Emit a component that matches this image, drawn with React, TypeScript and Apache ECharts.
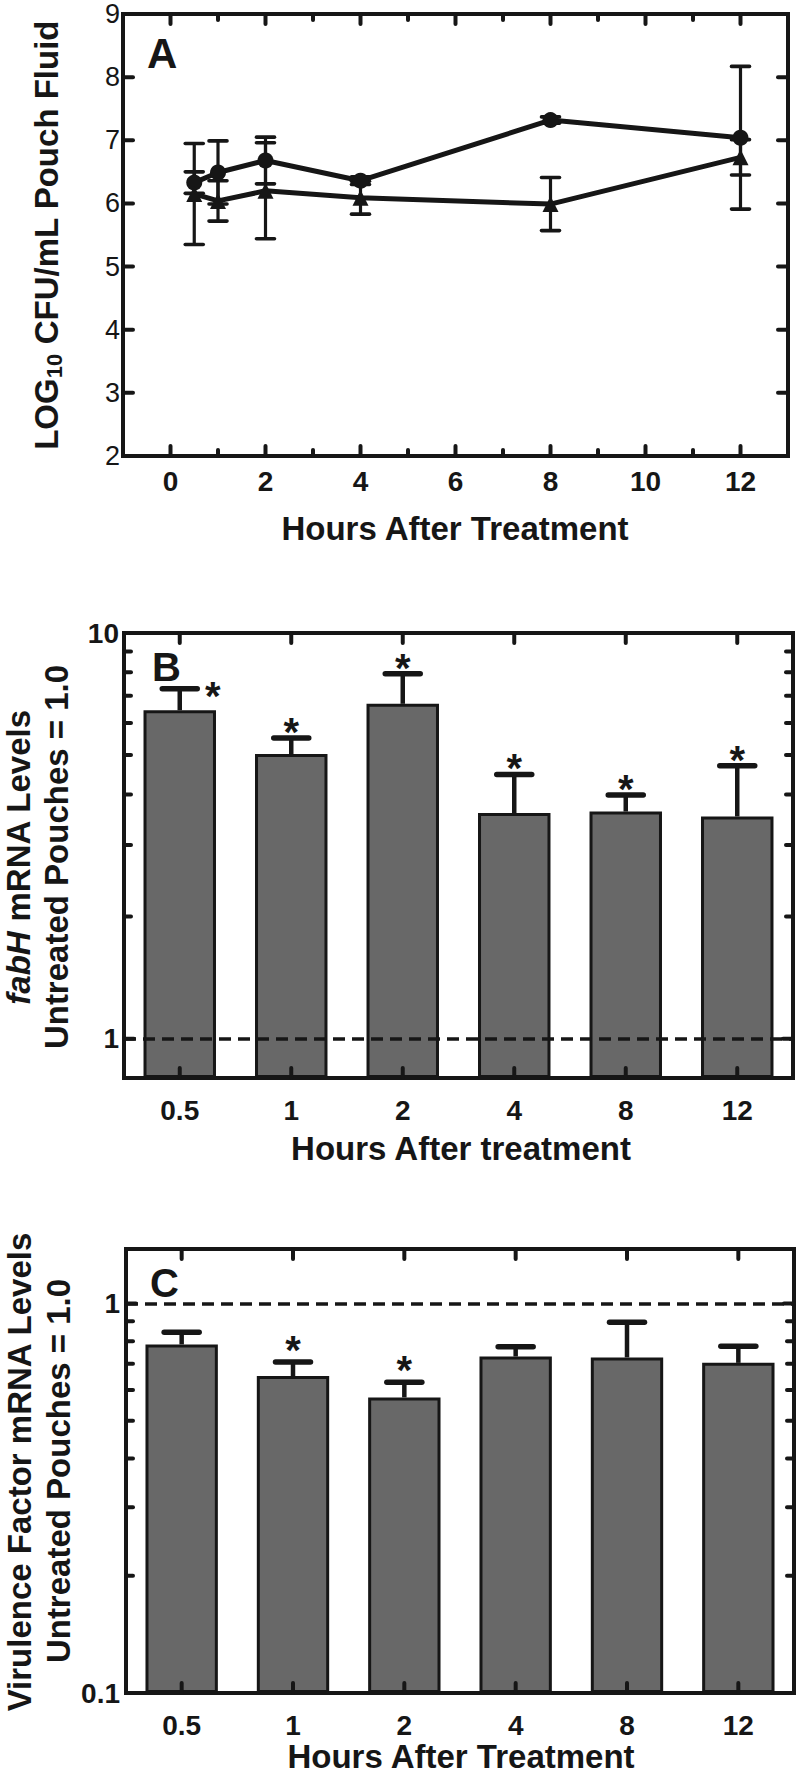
import React, { useEffect, useRef } from 'react';
import * as echarts from 'echarts';

const INK = '#161616';
const BAR_FILL = '#686868';
const FONT = '"Liberation Sans", Arial, Helvetica, sans-serif';

// ---------- Panel A : LOG10 CFU/mL ----------
const hoursA = [0.5, 1, 2, 4, 8, 12];
const circleMean = [6.33, 6.49, 6.68, 6.36, 7.32, 7.04];
const circleErr = [0.17, 0.5, 0.37, 0.06, 0.05, 1.13];
const triangleMean = [6.15, 6.04, 6.2, 6.09, 5.99, 6.73];
const triangleErr = [0.8, 0.32, 0.76, 0.26, 0.42, 0.28];
const xTicksMajorA = [0, 2, 4, 6, 8, 10, 12];
const xTicksMinorA = [1, 3, 5, 7, 9, 11];
const yTicksA = [3, 4, 5, 6, 7, 8];

// ---------- Panel B : fabH mRNA ----------
const categories = ['0.5', '1', '2', '4', '8', '12'];
const fabHMean = [6.45, 5.03, 6.69, 3.6, 3.63, 3.53];
const fabHUpper = [7.29, 5.51, 7.94, 4.48, 3.99, 4.71];
const fabHStar = [1, 1, 1, 1, 1, 1];
const yMajorB = [1];
const yMinorB = [2, 3, 4, 5, 6, 7, 8, 9];

// ---------- Panel C : virulence factor mRNA ----------
const virMean = [0.785, 0.651, 0.574, 0.731, 0.727, 0.704];
const virUpper = [0.844, 0.708, 0.628, 0.774, 0.895, 0.777];
const virStar = [0, 1, 1, 0, 0, 0];
const yMajorC = [1];
const yMinorC = [0.2, 0.3, 0.4, 0.5, 0.6, 0.7, 0.8, 0.9];
const catIndex = [0, 1, 2, 3, 4, 5];

const tickSeries = (idx: number, dir: 'x' | 'y', values: number[], len: number, ref: number) => ({
  type: 'custom',
  xAxisIndex: idx,
  yAxisIndex: idx,
  silent: true,
  clip: false,
  z: 8,
  data: values.map((v) => (dir === 'x' ? [v, ref] : [ref, v])),
  encode: { x: 0, y: 1 },
  renderItem: (params: any, api: any) => {
    const cs = params.coordSys;
    const p = api.coord([api.value(0), api.value(1)]);
    const st = { stroke: INK, lineWidth: 4, lineCap: 'round' };
    if (dir === 'x') {
      const b = cs.y + cs.height;
      const t = cs.y;
      return {
        type: 'group',
        children: [
          { type: 'line', shape: { x1: p[0], y1: b, x2: p[0], y2: b - len }, style: st },
          { type: 'line', shape: { x1: p[0], y1: t, x2: p[0], y2: t + len }, style: st },
        ],
      };
    }
    const l = cs.x;
    const r = cs.x + cs.width;
    return {
      type: 'group',
      children: [
        { type: 'line', shape: { x1: l, y1: p[1], x2: l + len, y2: p[1] }, style: st },
        { type: 'line', shape: { x1: r, y1: p[1], x2: r - len, y2: p[1] }, style: st },
      ],
    };
  },
});

const symErrSeries = (xs: number[], means: number[], errs: number[]) => ({
  type: 'custom',
  xAxisIndex: 0,
  yAxisIndex: 0,
  silent: true,
  z: 3,
  data: means.map((m, i) => [xs[i], m, errs[i]]),
  encode: { x: 0, y: 1 },
  renderItem: (params: any, api: any) => {
    const x = api.value(0);
    const m = api.value(1);
    const e = api.value(2);
    const hi = api.coord([x, m + e]);
    const lo = api.coord([x, m - e]);
    const cap = 9;
    const st = { stroke: INK, lineWidth: 3.2, lineCap: 'butt' };
    const cst = { stroke: INK, lineWidth: 3.6, lineCap: 'round' };
    return {
      type: 'group',
      children: [
        { type: 'line', shape: { x1: hi[0], y1: hi[1], x2: lo[0], y2: lo[1] }, style: st },
        { type: 'line', shape: { x1: hi[0] - cap, y1: hi[1], x2: hi[0] + cap, y2: hi[1] }, style: cst },
        { type: 'line', shape: { x1: lo[0] - cap, y1: lo[1], x2: lo[0] + cap, y2: lo[1] }, style: cst },
      ],
    };
  },
});

const barErrSeries = (
  idx: number,
  means: number[],
  uppers: number[],
  stars: number[],
  starGap: number,
  firstRight: boolean
) => ({
  type: 'custom',
  xAxisIndex: idx,
  yAxisIndex: idx,
  silent: true,
  z: 6,
  data: means.map((m, i) => [catIndex[i], m, uppers[i], stars[i]]),
  encode: { x: 0, y: [1, 2] },
  renderItem: (params: any, api: any) => {
    const i = api.value(0);
    const base = api.coord([i, api.value(1)]);
    const top = api.coord([i, api.value(2)]);
    const half = 17.5;
    const children: any[] = [
      { type: 'line', shape: { x1: top[0], y1: base[1], x2: top[0], y2: top[1] }, style: { stroke: INK, lineWidth: 4.5 } },
      {
        type: 'line',
        shape: { x1: top[0] - half, y1: top[1], x2: top[0] + half, y2: top[1] },
        style: { stroke: INK, lineWidth: 5.5, lineCap: 'round' },
      },
    ];
    if (api.value(3)) {
      const fs = 40;
      const lift = 0.225 * fs;
      let sx = top[0];
      let sy = top[1] - starGap + lift;
      if (firstRight && params.dataIndex === 0) {
        sx = top[0] + 33;
        sy = top[1] - 2 + lift;
      }
      children.push({
        type: 'text',
        x: sx,
        y: sy,
        style: {
          text: '*',
          fontSize: fs,
          fontWeight: 'bold',
          fontFamily: FONT,
          fill: INK,
          align: 'center',
          verticalAlign: 'middle',
        },
      });
    }
    return { type: 'group', children };
  },
});

const txt = (
  text: string,
  x: number,
  y: number,
  size: number,
  opts: any = {}
) => ({
  type: 'text',
  x,
  y,
  rotation: opts.rotation || 0,
  silent: true,
  z: 20,
  style: {
    text,
    fontSize: size,
    fontWeight: opts.weight || 'bold',
    fontFamily: FONT,
    fill: INK,
    align: opts.align || 'center',
    textAlign: opts.align || 'center',
    verticalAlign: 'middle',
    textVerticalAlign: 'middle',
    lineHeight: opts.lineHeight,
    rich: opts.rich,
  },
});

const axisLabelBase = {
  color: INK,
  fontFamily: FONT,
  fontSize: 28,
  fontWeight: 'bold',
  lineHeight: 28,
};

const near = (a: number, b: number) => Math.abs(a - b) < 1e-6 * Math.max(1, Math.abs(b));

export default function App() {
  const ref = useRef<HTMLDivElement>(null);

  useEffect(() => {
    document.body.style.margin = '0';
    document.body.style.overflow = 'hidden';
    if (!ref.current) return;
    const chart = echarts.init(ref.current, undefined, { renderer: 'svg' });

    const gridStyle = { show: true, borderColor: INK, borderWidth: 4, backgroundColor: 'transparent', outerBoundsMode: 'none' };

    const option: any = {
      animation: false,
      backgroundColor: '#ffffff',
      grid: [
        { ...gridStyle, left: 123, top: 14, width: 665, height: 442 },
        { ...gridStyle, left: 124, top: 633, width: 669, height: 445 },
        { ...gridStyle, left: 126, top: 1249, width: 668, height: 444 },
      ],
      xAxis: [
        {
          gridIndex: 0,
          type: 'value',
          min: -1,
          max: 13,
          interval: 1,
          axisLine: { show: false },
          axisTick: { show: false },
          splitLine: { show: false },
          axisLabel: {
            ...axisLabelBase,
            margin: 11,
            formatter: (v: number) => (v >= 0 && v % 2 === 0 ? String(v) : ''),
          },
        },
        {
          gridIndex: 1,
          type: 'category',
          data: categories,
          boundaryGap: true,
          axisLine: { show: false },
          axisTick: { show: false },
          splitLine: { show: false },
          axisLabel: { ...axisLabelBase, margin: 18, interval: 0 },
        },
        {
          gridIndex: 2,
          type: 'category',
          data: categories,
          boundaryGap: true,
          axisLine: { show: false },
          axisTick: { show: false },
          splitLine: { show: false },
          axisLabel: { ...axisLabelBase, margin: 18, interval: 0 },
        },
      ],
      yAxis: [
        {
          gridIndex: 0,
          type: 'value',
          min: 2,
          max: 9,
          interval: 1,
          axisLine: { show: false },
          axisTick: { show: false },
          splitLine: { show: false },
          axisLabel: { ...axisLabelBase, fontWeight: 'normal', fontSize: 27, lineHeight: 27, margin: 3 },
        },
        {
          gridIndex: 1,
          type: 'log',
          logBase: 10,
          min: 0.8,
          max: 10,
          startValue: 0.8,
          axisLine: { show: false },
          axisTick: { show: false },
          splitLine: { show: false },
          minorTick: { show: false },
          axisLabel: {
            ...axisLabelBase,
            margin: 5,
            formatter: (v: number) => (near(v, 10) ? '10' : near(v, 1) ? '1' : ''),
          },
        },
        {
          gridIndex: 2,
          type: 'log',
          logBase: 10,
          min: 0.1,
          max: 1.38,
          startValue: 0.1,
          axisLine: { show: false },
          axisTick: { show: false },
          splitLine: { show: false },
          minorTick: { show: false },
          axisLabel: {
            ...axisLabelBase,
            margin: 6,
            formatter: (v: number) => (near(v, 0.1) ? '0.1' : near(v, 1) ? '1' : ''),
          },
        },
      ],
      series: [
        // Panel A
        symErrSeries(hoursA, circleMean, circleErr),
        symErrSeries(hoursA, triangleMean, triangleErr),
        {
          type: 'line',
          name: 'circle',
          xAxisIndex: 0,
          yAxisIndex: 0,
          z: 4,
          data: circleMean.map((y, i) => [hoursA[i], y]),
          symbol: 'circle',
          symbolSize: 16,
          lineStyle: { color: INK, width: 5 },
          itemStyle: { color: INK, borderWidth: 0 },
        },
        {
          type: 'line',
          name: 'triangle',
          xAxisIndex: 0,
          yAxisIndex: 0,
          z: 4,
          data: triangleMean.map((y, i) => [hoursA[i], y]),
          symbol: 'triangle',
          symbolSize: 16,
          lineStyle: { color: INK, width: 5 },
          itemStyle: { color: INK, borderWidth: 0 },
        },
        tickSeries(0, 'x', xTicksMajorA, 10, 5),
        tickSeries(0, 'x', xTicksMinorA, 6, 5),
        tickSeries(0, 'y', yTicksA, 10, 0),

        // Panel B
        {
          type: 'bar',
          xAxisIndex: 1,
          yAxisIndex: 1,
          z: 2,
          data: fabHMean,
          barWidth: '65%',
          itemStyle: { color: BAR_FILL, borderColor: INK, borderWidth: 3 },
          markLine: {
            silent: true,
            z: 7,
            symbol: ['none', 'none'],
            label: { show: false },
            lineStyle: { color: INK, width: 3.5, type: [12, 7] },
            data: [{ yAxis: 1 }],
          },
        },
        barErrSeries(1, fabHMean, fabHUpper, fabHStar, 15, true),
        tickSeries(1, 'x', catIndex, 10, 1),
        tickSeries(1, 'y', yMajorB, 10, 0),
        tickSeries(1, 'y', yMinorB, 7, 0),

        // Panel C
        {
          type: 'bar',
          xAxisIndex: 2,
          yAxisIndex: 2,
          z: 2,
          data: virMean,
          barWidth: '65%',
          itemStyle: { color: BAR_FILL, borderColor: INK, borderWidth: 3 },
          markLine: {
            silent: true,
            z: 7,
            symbol: ['none', 'none'],
            label: { show: false },
            lineStyle: { color: INK, width: 3.5, type: [12, 7] },
            data: [{ yAxis: 1 }],
          },
        },
        barErrSeries(2, virMean, virUpper, virStar, 21, false),
        tickSeries(2, 'x', catIndex, 10, 0.5),
        tickSeries(2, 'y', yMajorC, 10, 0),
        tickSeries(2, 'y', yMinorC, 7, 0),
      ],
      graphic: [
        txt('A', 147, 53, 42, { align: 'left' }),
        txt('B', 152, 667, 40, { align: 'left' }),
        txt('C', 150, 1283, 40, { align: 'left' }),
        txt('Hours After Treatment', 455, 528, 33),
        txt('Hours After treatment', 461, 1148, 33),
        txt('Hours After Treatment', 461, 1756, 33),
        txt('LOG{sub|10} CFU/mL Pouch Fluid', 46, 235, 33, {
          rotation: Math.PI / 2,
          lineHeight: 38,
          rich: {
            sub: { fontSize: 22, fontWeight: 'bold', fontFamily: FONT, fill: INK, lineHeight: 22, verticalAlign: 'bottom' },
          },
        }),
        txt('{i|fabH} mRNA Levels', 18, 857, 33, {
          rotation: Math.PI / 2,
          rich: { i: { fontStyle: 'italic', fontWeight: 'bold', fontSize: 33, fontFamily: FONT, fill: INK } },
        }),
        txt('Untreated Pouches = 1.0', 56, 857, 33, { rotation: Math.PI / 2 }),
        txt('Virulence Factor mRNA Levels', 19, 1472, 33, { rotation: Math.PI / 2 }),
        txt('Untreated Pouches = 1.0', 58, 1471, 33, { rotation: Math.PI / 2 }),
      ],
    };

    chart.setOption(option);
    return () => chart.dispose();
  }, []);

  return <div ref={ref} style={{ width: 800, height: 1775 }} />;
}
